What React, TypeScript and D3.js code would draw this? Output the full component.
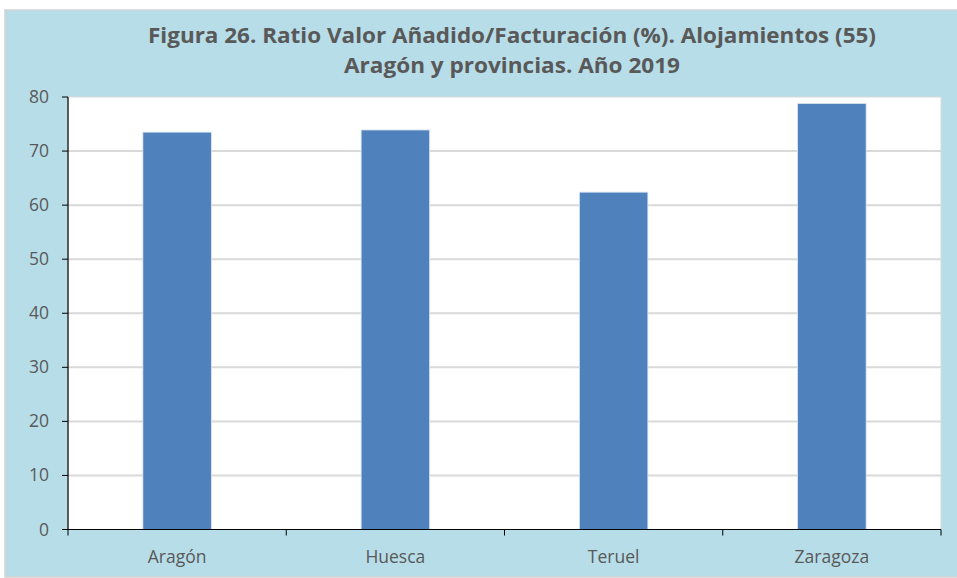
import React from "react";
import * as d3 from "d3";

const categories = ["Aragón", "Huesca", "Teruel", "Zaragoza"];
const values = [73.5, 73.9, 62.4, 78.8];
const yTicks = [0, 10, 20, 30, 40, 50, 60, 70, 80];
const titleLines = [
  "Figura 26. Ratio Valor Añadido/Facturación (%). Alojamientos (55)",
  "Aragón y provincias. Año 2019",
];

export default function App() {
  const W = 957, H = 578;
  const plot = { left: 68, right: 941, top: 97, bottom: 529.5 };
  const x = d3.scaleBand<string>().domain(categories).range([plot.left, plot.right]).paddingInner(0).paddingOuter(0);
  const y = d3.scaleLinear().domain([0, 80]).range([plot.bottom, plot.top]);
  const barW = 68.5;
  const font = "'Open Sans', 'DejaVu Sans', sans-serif";
  const txt = "#595959";
  const boundaries = [...categories.map((c) => x(c)!), plot.right];
  return (
    <svg width={W} height={H} style={{ position: "absolute", left: 0, top: 0 }}>
      <rect x={0} y={0} width={W} height={H} fill="#ffffff" />
      <rect x={5} y={10} width={W - 4} height={H - 11} fill="#b7dde8" stroke="#d4d4d4" strokeWidth={1.5} />
      {titleLines.map((t, i) => (
        <text
          key={i}
          x={512}
          y={43 + i * 30}
          textAnchor="middle"
          fontFamily={font}
          fontWeight="bold"
          fontSize={22}
          fill={txt}
          textLength={i === 0 ? 728 : 336}
          lengthAdjust="spacingAndGlyphs"
        >
          {t}
        </text>
      ))}
      <rect x={plot.left} y={plot.top} width={plot.right - plot.left} height={plot.bottom - plot.top} fill="#ffffff" stroke="#d9d9d9" strokeWidth={1} />
      {yTicks.filter((t) => t > 0 && t < 80).map((t) => (
        <line key={t} x1={plot.left} x2={plot.right} y1={y(t)} y2={y(t)} stroke="#d9d9d9" strokeWidth={2} />
      ))}
      {categories.map((c, i) => {
        const cx = x(c)! + x.bandwidth() / 2;
        return (
          <rect
            key={c}
            x={cx - barW / 2}
            y={y(values[i])}
            width={barW}
            height={plot.bottom - y(values[i])}
            fill="#4f81bd"
            stroke="#dbe5f1"
            strokeWidth={0.8}
          />
        );
      })}
      <line x1={plot.left} x2={plot.left} y1={plot.top} y2={plot.bottom} stroke="#000" strokeWidth={1.2} />
      <line x1={plot.left} x2={plot.right} y1={plot.bottom} y2={plot.bottom} stroke="#000" strokeWidth={1.2} />
      {yTicks.map((t) => (
        <g key={t}>
          <line x1={plot.left - 6} x2={plot.left} y1={y(t)} y2={y(t)} stroke="#000" strokeWidth={1} />
          <text x={49} y={y(t) + 6} textAnchor="end" fontFamily={font} fontSize={17.5} fill={txt}>
            {t}
          </text>
        </g>
      ))}
      {boundaries.map((b, i) => (
        <line key={i} x1={b} x2={b} y1={plot.bottom} y2={plot.bottom + 6} stroke="#000" strokeWidth={1} />
      ))}
      {categories.map((c) => (
        <text key={c} x={x(c)! + x.bandwidth() / 2} y={563} textAnchor="middle" fontFamily={font} fontSize={17.5} fill={txt}>
          {c}
        </text>
      ))}
    </svg>
  );
}
